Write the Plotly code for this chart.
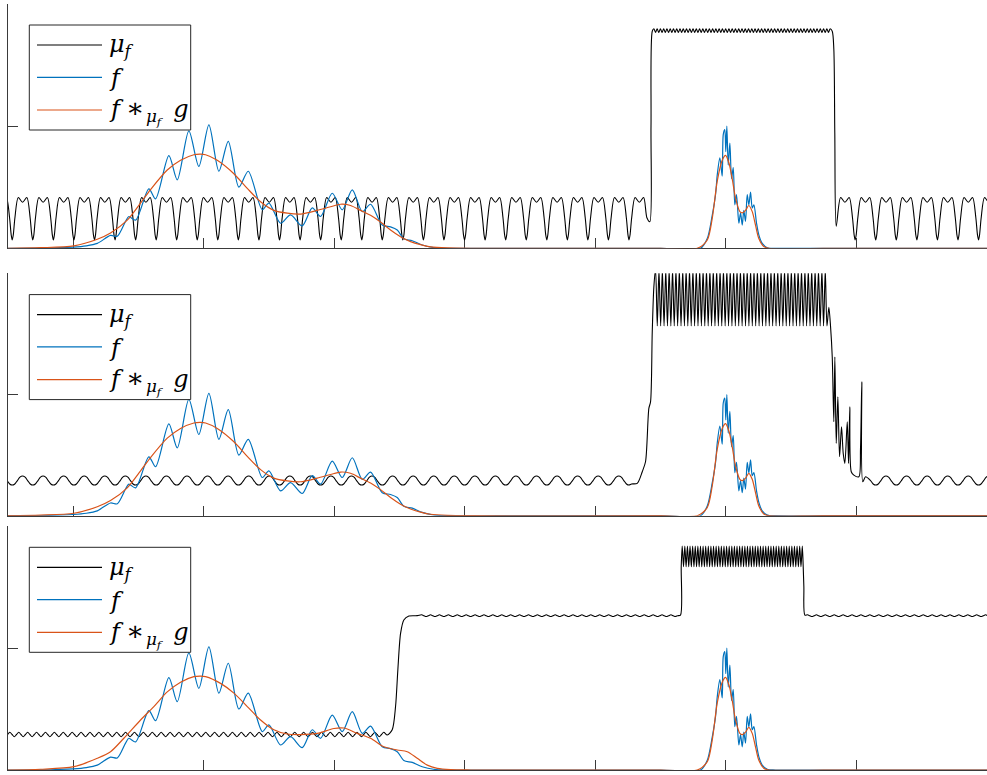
import plotly.graph_objects as go

# ---------------- axes ----------------
X_RANGE = [-1, 14]
Y_RANGE = [0, 2]
X_TICKS = [0, 2, 4, 6, 8, 10, 12, 14]
Y_TICKS = [0, 1, 2]

LEGEND_LABELS = [
    "<i>μ</i><sub><i>f</i></sub>",
    "<i>f</i>",
    "<i>f</i>\u2005<span style=\"font-size:27px\">∗</span><sub>\u200a<i>μ</i><sub><i>f</i></sub></sub>"
    "\u2005\u2005<i>g</i>",
]
COLORS = ["#000000", "#0072BD", "#D95319"]

# ---------------- f (same in every panel) ----------------
f_x = [-1.0, -0.5, 0.0, 0.2, 0.368, 0.571, 0.674, 0.801, 0.852, 0.955, 1.158, 1.261,
       1.465, 1.593, 1.771, 1.924, 2.078, 2.231, 2.375, 2.537, 2.681, 2.896, 2.997,
       3.176, 3.329, 3.508, 3.662, 3.789, 3.968, 4.121, 4.275, 4.428, 4.555, 4.734,
       4.861, 4.964, 5.065, 5.194, 5.347, 5.52, 5.78, 6.5, 9.0, 9.611, 9.714, 9.790,
       9.841, 9.867, 9.907, 9.943, 9.959, 9.983, 9.998, 10.014, 10.035, 10.060,
       10.086, 10.112, 10.136, 10.162, 10.198, 10.224, 10.250, 10.274, 10.300,
       10.326, 10.351, 10.377, 10.403, 10.428, 10.469, 10.504, 10.556, 10.633,
       10.76, 11.5, 14.0]
f_y = [0.0, 0.001, 0.01, 0.02, 0.04, 0.105, 0.098, 0.22, 0.26, 0.23, 0.486, 0.404,
       0.757, 0.56, 0.96, 0.67, 1.01, 0.63, 0.875, 0.50, 0.63, 0.315, 0.37, 0.205,
       0.273, 0.183, 0.33, 0.26, 0.45, 0.315, 0.478, 0.30, 0.36, 0.19, 0.175, 0.15,
       0.078, 0.062, 0.027, 0.006, 0.0, 0.0, 0.0, 0.0, 0.08, 0.27, 0.44, 0.60, 0.74,
       0.59, 0.93, 0.97, 0.79, 1.0, 0.68, 0.86, 0.57, 0.66, 0.355, 0.44, 0.205, 0.29,
       0.19, 0.31, 0.22, 0.44, 0.355, 0.46, 0.33, 0.355, 0.205, 0.11, 0.04, 0.005,
       0.0, 0.0, 0.0]

# ---------------- f *_mu g ----------------
fg_main12_x = [-1.0, -0.5, 0.01, 0.368, 0.571, 0.827, 1.031, 1.184, 1.440, 1.644,
               1.848, 1.950, 2.027, 2.206, 2.461, 2.666, 2.870, 3.073, 3.279, 3.482,
               3.738, 3.942, 4.095, 4.248, 4.402, 4.555, 4.708, 4.861, 5.014, 5.168,
               5.321, 5.474, 5.73, 6.09]
fg_main12_y = [0.0, 0.005, 0.02, 0.074, 0.125, 0.23, 0.37, 0.48, 0.64, 0.72, 0.765,
               0.77, 0.765, 0.72, 0.61, 0.49, 0.38, 0.31, 0.287, 0.28, 0.31, 0.34,
               0.36, 0.35, 0.31, 0.27, 0.215, 0.15, 0.095, 0.055, 0.03, 0.012, 0.003,
               0.0]
fg_main3_x = [-1.0, -0.5, 0.01, 0.368, 0.571, 0.775, 1.031, 1.235, 1.440, 1.644,
              1.848, 1.950, 2.027, 2.257, 2.461, 2.666, 2.870, 3.073, 3.279, 3.482,
              3.738, 3.993, 4.146, 4.351, 4.555, 4.759, 4.964, 5.117, 5.270, 5.424,
              5.577, 5.78, 6.09]
fg_main3_y = [0.0, 0.006, 0.027, 0.096, 0.15, 0.26, 0.41, 0.52, 0.64, 0.72, 0.765,
              0.77, 0.765, 0.71, 0.63, 0.52, 0.41, 0.33, 0.295, 0.29, 0.30, 0.34,
              0.344, 0.30, 0.26, 0.19, 0.164, 0.15, 0.096, 0.04, 0.014, 0.003, 0.0]
fg_peak_x = [9.0, 9.560, 9.714, 9.790, 9.867, 9.943, 9.994, 10.045, 10.096, 10.147,
             10.213, 10.250, 10.300, 10.351, 10.403, 10.453, 10.504, 10.580, 10.657,
             11.5, 14.0]
fg_peak_y = [0.0, 0.0, 0.068, 0.245, 0.55, 0.72, 0.76, 0.70, 0.57, 0.41, 0.30, 0.29,
             0.31, 0.35, 0.30, 0.19, 0.08, 0.014, 0.0, 0.0, 0.0]

# ---------------- mu_f, panel 1 ----------------
mu_dips = [-1.250, -0.935, -0.620, -0.305, 0.010, 0.325, 0.640, 0.955, 1.270, 1.585,
           1.900, 2.215, 2.530, 2.845, 3.160, 3.475, 3.790, 4.105, 4.420, 4.735,
           5.050, 5.365, 5.680, 5.995, 6.310, 6.625, 6.940, 7.255, 7.570, 7.885,
           8.200, 8.515, 8.830, 9.145, 9.460, 9.775, 10.090, 10.405, 10.720, 11.035,
           11.350, 11.665, 11.980, 12.295, 12.610, 12.925, 13.240, 13.555, 13.870,
           14.185]
mu1_period_dx = [0.0, 0.016, 0.041, 0.092, 0.158, 0.224, 0.274, 0.299]
mu1_period_y = [0.068, 0.11, 0.25, 0.415, 0.377, 0.415, 0.25, 0.11]
mu1_rise_x = [8.789, 8.834, 8.852, 8.871]
mu1_rise_y = [0.25, 0.218, 1.0, 1.775]
mu1_plateau = [8.896, 11.60]        # start / end of the dense ripple
mu1_plateau_levels = [1.795, 1.765]
mu1_plateau_pitch = 0.025
mu1_fall_x = [11.629, 11.653, 11.668, 11.690]
mu1_fall_y = [1.775, 1.63, 0.94, 0.18]

# ---------------- mu_f, panel 2 ----------------
mu2_period_dx = [0.0, 0.039, 0.079, 0.118, 0.157, 0.197, 0.236, 0.276]
mu2_period_y = [0.253, 0.262, 0.29, 0.318, 0.327, 0.318, 0.29, 0.262]
mu2_rise_x = [8.641, 8.718, 8.768, 8.819, 8.845, 8.871, 8.896]
mu2_rise_y = [0.267, 0.363, 0.445, 0.885, 0.94, 1.517, 1.89]
mu2_plateau = [8.922, 11.55]
mu2_plateau_levels = [2.03, 1.565]
mu2_plateau_pitch = 0.026
mu2_fall_x = [11.577, 11.603, 11.629, 11.653, 11.669, 11.690, 11.715, 11.741, 11.771,
              11.797, 11.822, 11.859, 11.879, 11.898, 11.920, 11.960, 12.036, 12.062,
              12.082, 12.097, 12.139]
mu2_fall_y = [1.72, 1.56, 1.31, 0.775, 1.31, 0.597, 0.98, 0.486, 0.733, 0.514, 0.432,
              0.775, 0.432, 0.899, 0.363, 0.335, 0.321, 0.556, 1.105, 0.28, 0.321]

# ---------------- mu_f, panel 3 ----------------
mu3_low_span = [-1.108, 4.78]
mu3_low_levels = [0.309, 0.291, 0.273, 0.291]
mu3_rise_x = [4.811, 4.887, 4.938, 4.973, 5.015, 5.065, 5.142, 5.27]
mu3_rise_y = [0.287, 0.33, 0.52, 0.82, 1.12, 1.23, 1.262, 1.265]
mu3_mid_span_a = [5.338, 9.28]
mu3_mid_span_b = [11.25, 14.2]
mu3_mid_levels = [1.272, 1.265, 1.258, 1.265]
mu3_ripple_pitch = 0.0341
mu3_rise2_x = [9.304, 9.315]
mu3_rise2_y = [1.27, 1.667]
mu3_plateau = [9.330, 11.17]
mu3_plateau_levels = [1.835, 1.667]
mu3_plateau_pitch = 0.02
mu3_fall_x = [11.184, 11.194, 11.209]
mu3_fall_y = [1.667, 1.5, 1.27]


def tile(centres, dx, dy, keep):
    xs, ys = [], []
    for c in centres:
        for a, b in zip(dx, dy):
            x = round(c + a, 4)
            if keep(x):
                xs.append(x)
                ys.append(b)
    return xs, ys


def alternate(span, pitch, levels):
    xs, ys = [], []
    i = 0
    x = span[0]
    while x <= span[1] + 1e-9:
        xs.append(round(x, 4))
        ys.append(levels[i % len(levels)])
        i += 1
        x = span[0] + i * pitch
    return xs, ys


def merge(*parts):
    pts = []
    for xs, ys in parts:
        pts.extend(zip(xs, ys))
    pts.sort(key=lambda p: p[0])
    return [p[0] for p in pts], [p[1] for p in pts]


mu1 = merge(
    tile(mu_dips, mu1_period_dx, mu1_period_y, lambda x: x < 8.745 or x > 11.72),
    (mu1_rise_x, mu1_rise_y),
    alternate(mu1_plateau, mu1_plateau_pitch, mu1_plateau_levels),
    (mu1_fall_x, mu1_fall_y),
)
mu2 = merge(
    tile(mu_dips, mu2_period_dx, mu2_period_y, lambda x: x < 8.56 or x > 12.2),
    (mu2_rise_x, mu2_rise_y),
    alternate(mu2_plateau, mu2_plateau_pitch, mu2_plateau_levels),
    (mu2_fall_x, mu2_fall_y),
)
mu3 = merge(
    alternate(mu3_low_span, mu3_ripple_pitch, mu3_low_levels),
    (mu3_rise_x, mu3_rise_y),
    alternate(mu3_mid_span_a, mu3_ripple_pitch, mu3_mid_levels),
    (mu3_rise2_x, mu3_rise2_y),
    alternate(mu3_plateau, mu3_plateau_pitch, mu3_plateau_levels),
    (mu3_fall_x, mu3_fall_y),
    alternate(mu3_mid_span_b, mu3_ripple_pitch, mu3_mid_levels),
)
fg12 = (fg_main12_x + fg_peak_x, fg_main12_y + fg_peak_y)
fg3 = (fg_main3_x + fg_peak_x, fg_main3_y + fg_peak_y)

panels = [(mu1, fg12), (mu2, fg12), (mu3, fg3)]

# ---------------- layout (pixels of the 987 x 775 page) ----------------
W, H = 987, 775
AX_LEFT = 8
PANEL_TOP_BOTTOM = [(3.7, 248.3), (273.3, 515.7), (526.0, 770.0)]
LEG_LEFT, LEG_RIGHT, LEG_HEIGHT, LEG_OFFSET = 29.3, 190.7, 105, 21.3
LEG_LINE_X = (37, 102)
LEG_TEXT_X = 107
LEG_ROWS = [20, 52.3, 85]
AXIS_COLOR = "#3a3a3a"
LEG_FONT = "DejaVu Serif"


def px_x(p):
    return p / W


def px_y(p):
    return 1 - p / H


fig = go.Figure()
shapes, annotations = [], []

for i, ((mux, muy), (gx, gy)) in enumerate(panels):
    sfx = "" if i == 0 else str(i + 1)
    xa, ya = "x" + sfx, "y" + sfx
    fig.add_trace(go.Scatter(x=mux, y=muy, mode="lines", xaxis=xa, yaxis=ya,
                             line=dict(color=COLORS[0], width=1.1, shape="spline", smoothing=0.8),
                             name="mu_f", showlegend=False, hoverinfo="skip"))
    fig.add_trace(go.Scatter(x=f_x, y=f_y, mode="lines", xaxis=xa, yaxis=ya,
                             line=dict(color=COLORS[1], width=1.2, shape="spline", smoothing=0.8),
                             name="f", showlegend=False, hoverinfo="skip"))
    fig.add_trace(go.Scatter(x=gx, y=gy, mode="lines", xaxis=xa, yaxis=ya,
                             line=dict(color=COLORS[2], width=1.2, shape="spline", smoothing=0.8),
                             name="f*g", showlegend=False, hoverinfo="skip"))

    top, bot = PANEL_TOP_BOTTOM[i]
    axis_common = dict(showline=True, linecolor=AXIS_COLOR, linewidth=1, ticks="inside",
                       ticklen=10, tickwidth=1, tickcolor=AXIS_COLOR, showticklabels=False,
                       showgrid=False, zeroline=False, layer="below traces", fixedrange=True)
    fig.layout["xaxis" + sfx] = dict(domain=[AX_LEFT / W, 1], range=X_RANGE, tickmode="array",
                                     tickvals=X_TICKS, anchor=ya, **axis_common)
    fig.layout["yaxis" + sfx] = dict(domain=[px_y(bot), px_y(top)], range=Y_RANGE,
                                     tickmode="array", tickvals=Y_TICKS, anchor=xa, **axis_common)

    # legend box drawn MATLAB style
    lt = top + LEG_OFFSET
    shapes.append(dict(type="rect", xref="paper", yref="paper", x0=px_x(LEG_LEFT),
                       x1=px_x(LEG_RIGHT), y0=px_y(lt + LEG_HEIGHT), y1=px_y(lt),
                       line=dict(color="#262626", width=1), fillcolor="white", layer="above"))
    for r, (lab, col) in enumerate(zip(LEGEND_LABELS, COLORS)):
        yy = lt + LEG_ROWS[r]
        shapes.append(dict(type="line", xref="paper", yref="paper", x0=px_x(LEG_LINE_X[0]),
                           x1=px_x(LEG_LINE_X[1]), y0=px_y(yy), y1=px_y(yy),
                           line=dict(color=col, width=1.2), layer="above"))
        annotations.append(dict(xref="paper", yref="paper", x=px_x(LEG_TEXT_X), y=px_y(yy + 1),
                                xanchor="left", yanchor="middle", text=lab, showarrow=False,
                                font=dict(family=LEG_FONT, size=24, color="black")))

fig.update_layout(width=W, height=H, autosize=False,
                  margin=dict(l=0, r=0, t=0, b=0, pad=0),
                  paper_bgcolor="white", plot_bgcolor="white",
                  showlegend=False, shapes=shapes, annotations=annotations)

fig.write_html("out.html", config={"displayModeBar": False},
               post_script="document.body.style.margin='0px';"
                           "document.documentElement.style.overflow='hidden';"
                           "document.body.style.overflow='hidden';")
